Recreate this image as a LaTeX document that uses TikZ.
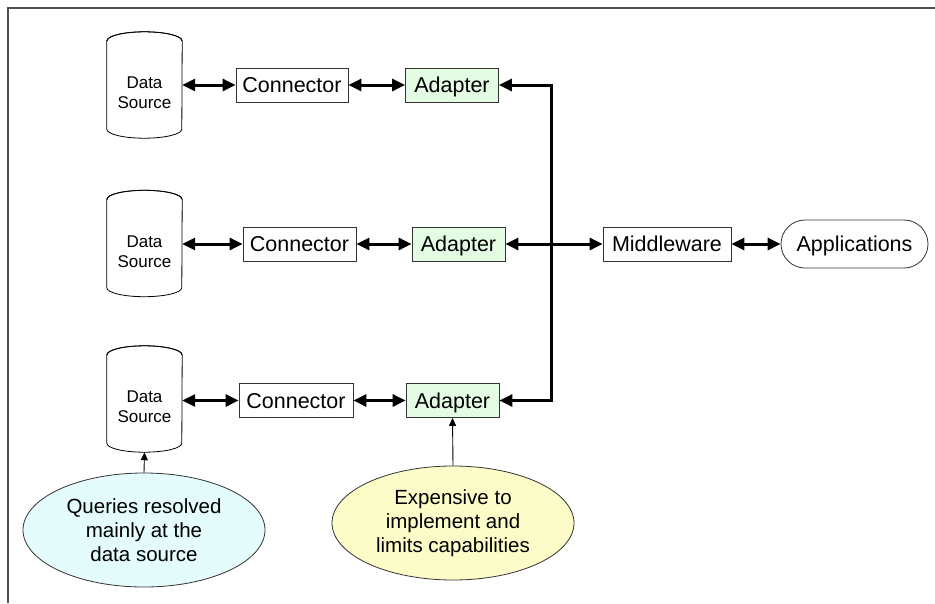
\documentclass[tikz,border=0pt]{standalone}
\usepackage{fontspec}
\setmainfont{Liberation Sans}
\usetikzlibrary{arrows.meta,shapes.geometric}
\definecolor{adaptgreen}{HTML}{E3FCE3}
\definecolor{noteblue}{HTML}{E4FCFC}
\definecolor{noteyellow}{HTML}{FCFCC8}
\definecolor{framegray}{HTML}{505050}
\tikzset{
  box/.style={draw=black!80, line width=0.8pt, rectangle, inner sep=0pt, minimum height=34pt, text height=15pt, text depth=0pt, font=\fontsize{21.5}{25}\selectfont},
  adapterbox/.style={box, fill=adaptgreen, minimum width=93pt},
  dsnode/.style={rectangle, inner sep=0pt, minimum width=75pt, minimum height=106pt},
  dstext/.style={align=center, font=\fontsize{17}{20}\selectfont},
  note/.style={ellipse, draw=black!80, line width=0.8pt, inner sep=0pt, minimum width=242pt, minimum height=114pt, align=center, font=\fontsize{20.5}{24}\selectfont},
  biarrow/.style={line width=3pt, {Triangle[length=13pt,width=12pt]}-{Triangle[length=13pt,width=12pt]}},
  thinarrow/.style={line width=0.9pt, -{Triangle[length=8pt,width=7pt]}}
}
\newcommand{\cylat}[1]{%
  \draw[line width=0.8pt, fill=white]
    ([yshift=-9pt]#1.north west) -- ([yshift=9pt]#1.south west)
    arc[start angle=180, end angle=360, x radius=37.5pt, y radius=9pt]
    -- ([yshift=-9pt]#1.north east)
    arc[start angle=0, end angle=180, x radius=37.5pt, y radius=9pt] -- cycle;
  \draw[line width=0.8pt] ([yshift=-9pt]#1.north west)
    arc[start angle=180, end angle=360, x radius=37.5pt, y radius=-9pt];
}
\begin{document}
\begin{tikzpicture}[x=1pt,y=-1pt]
\useasboundingbox (0,0) rectangle (935,603);
\fill[white] (0,0) rectangle (935,603);
\draw[framegray, line width=1.5pt] (935,8) -- (8,8) -- (8,603);

% data sources
\node[dsnode] (ds1) at (144.5,85) {};
\node[dsnode] (ds2) at (144.5,243.5) {};
\node[dsnode] (ds3) at (144.5,399) {};
\cylat{ds1}
\cylat{ds2}
\cylat{ds3}
\node[dstext] (t1) at (144.5,93) {Data\\Source};
\node[dstext] (t2) at (144.5,252) {Data\\Source};
\node[dstext] (t3) at (144.5,407) {Data\\Source};

% connectors
\node[box, minimum width=112pt] (c1) at (292,85) {Connector};
\node[box, minimum width=113pt] (c2) at (299.5,244) {Connector};
\node[box, minimum width=114pt] (c3) at (296,400.5) {Connector};

% adapters
\node[adapterbox] (a1) at (452,85) {Adapter};
\node[adapterbox] (a2) at (458.5,244) {Adapter};
\node[adapterbox] (a3) at (452.5,400.5) {Adapter};

% middleware and applications
\node[box, minimum width=128pt] (mw) at (667,244) {Middleware};
\node[box, minimum width=147pt, minimum height=48pt, rounded corners=24pt] (app) at (854.5,244) {Applications};

% notes
\node[note, fill=noteblue] (n1) at (144,530) {Queries resolved\\mainly at the\\data source};
\node[note, fill=noteyellow] (n2) at (453,523) {Expensive to\\implement and\\limits capabilities};

\coordinate (bt) at (551,85);
\coordinate (bb) at (551,400.5);

% arrows
\draw[biarrow] (ds1.east |- c1.west) -- (c1.west);
\draw[biarrow] (ds2.east |- c2.west) -- (c2.west);
\draw[biarrow] (ds3.east |- c3.west) -- (c3.west);
\draw[biarrow] (c1) -- (a1);
\draw[biarrow] (c2) -- (a2);
\draw[biarrow] (c3) -- (a3);
\draw[biarrow] (a1.east) -- (bt) -- (bb) -- (a3.east);
\draw[biarrow] (a2.east) -- (mw.west);
\draw[biarrow] (mw) -- (app);
\draw[thinarrow] (n1.north) -- (ds3.south);
\draw[thinarrow] (n2.north) -- (a3.south);
\end{tikzpicture}
\end{document}
